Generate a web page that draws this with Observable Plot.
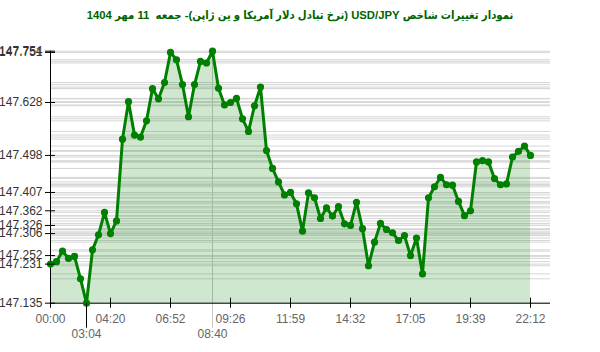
<!DOCTYPE html>
<html>
<head>
<meta charset="utf-8">
<script src="https://cdn.jsdelivr.net/npm/d3@7"></script>
<script src="https://cdn.jsdelivr.net/npm/@observablehq/plot@0.6"></script>
<style>
  html, body { margin: 0; padding: 0; background: #fff; }
  #wrap { position: relative; width: 600px; height: 352px; }
  #title { position: absolute; left: 0; top: 7px; width: 600px; text-align: center;
    font-family: "Liberation Sans", "DejaVu Sans Condensed", "DejaVu Sans", sans-serif;
    font-weight: bold; font-size: 11.3px; font-stretch: condensed; color: #006400; line-height: 16px; }
  svg { display: block; }
</style>
</head>
<body>
<div id="wrap"><div id="title" dir="rtl">نمودار تغییرات شاخص USD/JPY (نرخ تبادل دلار آمریکا و ین ژاپن)- جمعه&nbsp; 11 مهر 1404</div></div>
<script>
const values = [
  147.231, 147.237, 147.263, 147.245, 147.250, 147.195, 147.135, 147.266, 147.303, 147.358,
  147.306, 147.337, 147.538, 147.630, 147.548, 147.543, 147.583, 147.662, 147.637, 147.677,
  147.751, 147.733, 147.672, 147.593, 147.672, 147.729, 147.725, 147.754, 147.663, 147.622,
  147.628, 147.638, 147.588, 147.557, 147.620, 147.666, 147.510, 147.466, 147.433, 147.401,
  147.407, 147.379, 147.312, 147.406, 147.394, 147.343, 147.369, 147.349, 147.372, 147.330,
  147.326, 147.383, 147.318, 147.227, 147.285, 147.331, 147.316, 147.308, 147.289, 147.301,
  147.252, 147.295, 147.207, 147.394, 147.421, 147.444, 147.426, 147.425, 147.385, 147.350,
  147.362, 147.482, 147.485, 147.482, 147.441, 147.426, 147.428, 147.494, 147.508, 147.521,
  147.498
];
const xTickIndex = [0, 10, 20, 30, 40, 50, 60, 70, 80];
const xTickLabels = ["00:00", "04:20", "06:52", "09:26", "11:59", "14:32", "17:05", "19:39", "22:12"];
const minLabel = "03:04";
const maxLabel = "08:40";

const data = values.map((v, i) => ({i, v}));
const vMin = d3.min(values), vMax = d3.max(values);
const iMin = d3.minIndex(values), iMax = d3.maxIndex(values);
const yTicks = [...xTickIndex.map(i => values[i]), vMin, vMax];
const green = "#008000";

const chart = Plot.plot({
  width: 600,
  height: 352,
  marginLeft: 50,
  marginRight: 50,
  marginTop: 50.7,
  marginBottom: 49.3,
  style: {fontFamily: "'Liberation Sans', Arial, sans-serif", fontSize: "12px", background: "#fff"},
  x: {domain: [0, 250 / 3]},
  y: {domain: [vMin, vMax]},
  marks: [
    Plot.ruleY(values, {stroke: "#d6d6d6", strokeWidth: 1}),
    Plot.ruleX([iMax], {stroke: "#c8c8c8", strokeWidth: 1, insetBottom: -25}),
    Plot.areaY(data, {x: "i", y1: vMin, y2: "v", fill: green, fillOpacity: 0.19}),
    Plot.ruleX([0], {stroke: "#000"}),
    Plot.ruleY([vMin], {stroke: "#000"}),
    Plot.line(data, {x: "i", y: "v", stroke: green, strokeWidth: 3, strokeLinejoin: "round"}),
    Plot.dot(data, {x: "i", y: "v", r: 3.6, fill: green, stroke: "none"}),
    Plot.axisY({ticks: yTicks, tickSize: 10, dx: 5, tickFormat: () => "", stroke: "#000", label: null}),
    Plot.axisY({ticks: yTicks, tickSize: 0, tickPadding: 8, tickFormat: d3.format(".3f"), fill: "#333", label: null}),
    Plot.axisX({ticks: xTickIndex, tickSize: 10, dy: -5, tickFormat: () => "", stroke: "#000", label: null}),
    Plot.axisX({ticks: [iMin], tickSize: 25, tickFormat: () => "", stroke: "#000", label: null}),
    Plot.axisX({ticks: xTickIndex, tickSize: 0, tickPadding: 11, tickFormat: d => xTickLabels[xTickIndex.indexOf(d)], fill: "#666", label: null}),
    Plot.axisX({ticks: [iMin], tickSize: 0, tickPadding: 26, tickFormat: () => minLabel, fill: "#666", label: null}),
    Plot.axisX({ticks: [iMax], tickSize: 0, tickPadding: 26, tickFormat: () => maxLabel, fill: "#666", label: null})
  ]
});
document.getElementById("wrap").prepend(chart);
</script>
</body>
</html>
